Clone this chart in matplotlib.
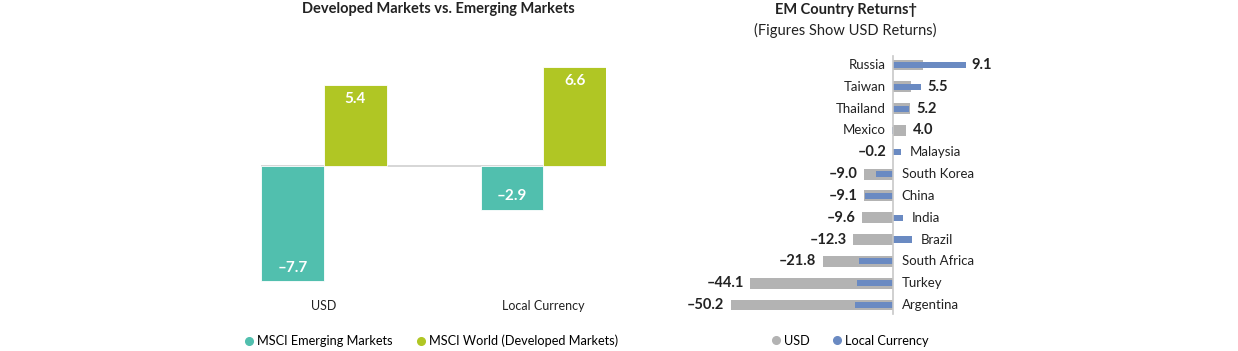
import numpy as np
import matplotlib
matplotlib.use("Agg")
import matplotlib.pyplot as plt
from matplotlib.lines import Line2D

plt.rcParams['font.family'] = ['Lato', 'DejaVu Sans']

# left chart data
groups = ["USD", "Local Currency"]
em_values = [-7.7, -2.9]
dm_values = [5.4, 6.6]

# right chart data
countries = ["Russia", "Taiwan", "Thailand", "Mexico", "Malaysia", "South Korea",
             "China", "India", "Brazil", "South Africa", "Turkey", "Argentina"]
usd_returns = [9.1, 5.5, 5.2, 4.0, -0.2, -9.0, -9.1, -9.6, -12.3, -21.8, -44.1, -50.2]
local_returns = [22.3, 8.6, 4.8, -0.4, 2.4, -5.4, -8.7, 3.0, 5.9, -10.5, -11.2, -11.8]

teal = "#51bfae"
olive = "#b0c624"
gray = "#b3b3b3"
blue = "#6a8ac2"
dark = "#222222"

fig = plt.figure(figsize=(12.38, 3.51), dpi=100)

# ---- left chart ----
ax1 = fig.add_axes([0.2112, 0.1895, 0.2783, 0.6365])
x = np.arange(len(groups))
w = 0.285
ax1.bar(x - w / 2, em_values, w, color=teal, edgecolor="white", linewidth=0.6, zorder=2)
ax1.bar(x + w / 2, dm_values, w, color=olive, edgecolor="white", linewidth=0.6, zorder=2)
ax1.axhline(0, color="#d0d0d0", linewidth=1.2, zorder=1)
ax1.set_xlim(-w, 1 + w)
ax1.set_ylim(-7.9, 7.0)
for xs, vals in [(x - w / 2, em_values), (x + w / 2, dm_values)]:
    for xi, v in zip(xs, vals):
        off = -10 if v > 0 else 10
        ax1.annotate(f"{v:.1f}".replace("-", "\u2013"), (xi, v), xytext=(0, off),
                     textcoords="offset points", ha="center", va="center",
                     color="white", fontsize=11, fontweight="bold")
ax1.set_xticks(x)
ax1.set_xticklabels(groups, fontsize=9, color=dark)
ax1.tick_params(axis="x", length=0, pad=11)
ax1.set_yticks([])
for s in ax1.spines.values():
    s.set_visible(False)
fig.text(0.354, 0.975, "Developed Markets vs. Emerging Markets", ha="center", va="center",
         fontsize=10.5, fontweight="bold", color=dark)

h1 = [Line2D([], [], marker="o", linestyle="", color=teal, markersize=5.5),
      Line2D([], [], marker="o", linestyle="", color=olive, markersize=5.5)]
fig.legend(h1, ["MSCI Emerging Markets", "MSCI World (Developed Markets)"],
           loc="center", bbox_to_anchor=(0.347, 0.029), ncol=2, frameon=False,
           fontsize=9.2, handletextpad=0.05, columnspacing=1.6, handlelength=1.2)

# ---- right chart ----
ax2 = fig.add_axes([698.9 / 1238, (351 - 318.1) / 351, (990.5 - 698.9) / 1238,
                    (318.1 - 51.9) / 351])
y = np.arange(len(countries))
ax2.barh(y, usd_returns, 0.5, color=gray, zorder=2)
ax2.barh(y, local_returns, 0.28, color=blue, zorder=3)
ax2.plot([0, 0], [-0.4, 11.4], color="#c8c8c8", linewidth=1.2, zorder=4)
ax2.set_xlim(-60, 30)
ax2.set_ylim(11.6, -0.6)
for yi, name, u, l in zip(y, countries, usd_returns, local_returns):
    lab = f"{u:.1f}".replace("-", "\u2013")
    if u >= 0:
        ax2.annotate(lab, (max(u, l), yi), xytext=(4.5, 0), textcoords="offset points",
                     ha="left", va="center", fontsize=10.5, fontweight="bold", color=dark)
        ax2.annotate(name, (0, yi), xytext=(-5.6, 0), textcoords="offset points",
                     ha="right", va="center", fontsize=9.5, color=dark)
    else:
        ax2.annotate(lab, (min(u, l), yi), xytext=(-4.5, 0), textcoords="offset points",
                     ha="right", va="center", fontsize=10.5, fontweight="bold", color=dark)
        ax2.annotate(name, (max(0, l), yi), xytext=(6, 0), textcoords="offset points",
                     ha="left", va="center", fontsize=9.5, color=dark)
ax2.axis("off")
fig.text(0.683, 0.972, "EM Country Returns\u2020", ha="center", va="center",
         fontsize=10.5, fontweight="bold", color=dark)
fig.text(0.683, 0.912, "(Figures Show USD Returns)", ha="center", va="center",
         fontsize=10.5, color=dark)

h2 = [Line2D([], [], marker="o", linestyle="", color=gray, markersize=5.5),
      Line2D([], [], marker="o", linestyle="", color=blue, markersize=5.5)]
fig.legend(h2, ["USD", "Local Currency"], loc="center", bbox_to_anchor=(0.6855, 0.029),
           ncol=2, frameon=False, fontsize=9.2, handletextpad=0.05, columnspacing=1.5,
           handlelength=1.2)

fig.savefig("out.png", dpi=100)
